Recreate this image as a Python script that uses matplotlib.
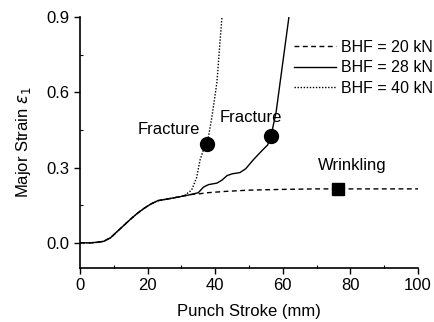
import matplotlib
matplotlib.use("Agg")
import matplotlib.pyplot as plt
from matplotlib.ticker import MultipleLocator

plt.rcParams['font.family'] = ['Liberation Sans', 'DejaVu Sans']

# shared early part of all curves
stroke_common = [0, 3, 5, 7, 9, 11, 13, 15, 17, 19, 21, 23, 26, 30, 33]
strain_common = [0.0, 0.0, 0.002, 0.006, 0.02, 0.045, 0.07, 0.095, 0.118, 0.138, 0.155, 0.168, 0.175, 0.185, 0.193]

# BHF = 20 kN (wrinkling)
stroke_20 = stroke_common + [35, 38, 43, 50, 60, 70, 80, 90, 100]
strain_20 = strain_common + [0.195, 0.2, 0.205, 0.21, 0.213, 0.215, 0.215, 0.215, 0.215]

# BHF = 28 kN (fracture at ~56 mm)
stroke_28 = stroke_common + [35, 36.5, 38, 40.5, 42, 43.5, 45, 47.3, 49, 51.2, 54, 55.5, 56.5, 58, 59.2, 60.5, 61.8]
strain_28 = strain_common + [0.2, 0.222, 0.232, 0.238, 0.25, 0.268, 0.275, 0.28, 0.295, 0.33, 0.37, 0.39, 0.426, 0.52, 0.64, 0.77, 0.9]

# BHF = 40 kN (fracture at ~38 mm)
stroke_40 = stroke_common[:-1] + [31, 33, 34.5, 35.5, 36.5, 37.6, 39, 40.5, 41.4, 42]
strain_40 = strain_common[:-1] + [0.19, 0.21, 0.26, 0.33, 0.37, 0.394, 0.5, 0.64, 0.8, 0.9]

fracture_x = [37.6, 56.5]
fracture_y = [0.394, 0.426]
wrinkle_x = [76.3]
wrinkle_y = [0.215]

fig = plt.figure(figsize=(4.35, 3.22), dpi=100)
ax = fig.add_axes([0.184, 0.168, 0.777, 0.779])

ax.plot(stroke_20, strain_20, color='black', linestyle=(0, (3.5, 2.5)), linewidth=1.0, label='BHF = 20 kN')
ax.plot(stroke_28, strain_28, color='black', linestyle='-', linewidth=1.0, label='BHF = 28 kN')
ax.plot(stroke_40, strain_40, color='black', linestyle=(0, (1, 1.2)), linewidth=1.0, label='BHF = 40 kN')

ax.plot(fracture_x, fracture_y, 'o', color='black', markersize=10, zorder=5)
ax.plot(wrinkle_x, wrinkle_y, 's', color='black', markersize=9, zorder=5)

ax.text(35.5, 0.45, 'Fracture', fontsize=12, ha='right', va='center')
ax.text(59.8, 0.498, 'Fracture', fontsize=12, ha='right', va='center')
ax.text(80.5, 0.31, 'Wrinkling', fontsize=12, ha='center', va='center')

ax.set_xlim(0, 100)
ax.set_ylim(-0.1, 0.9)
ax.xaxis.set_major_locator(MultipleLocator(20))
ax.xaxis.set_minor_locator(MultipleLocator(10))
ax.yaxis.set_major_locator(MultipleLocator(0.3))
ax.yaxis.set_minor_locator(MultipleLocator(0.15))
ax.set_yticks([0.0, 0.3, 0.6, 0.9])
ax.set_yticklabels(['0.0', '0.3', '0.6', '0.9'])
ax.tick_params(axis='both', which='major', labelsize=12, direction='out', length=4, width=1)
ax.tick_params(axis='both', which='minor', direction='in', length=2, width=0.8)

for side in ['top', 'right']:
    ax.spines[side].set_visible(False)
for side in ['left', 'bottom']:
    ax.spines[side].set_linewidth(1.2)

ax.set_xlabel('Punch Stroke (mm)', fontsize=12, labelpad=8)
ax.set_ylabel(r'Major Strain $\varepsilon_1$', fontsize=12, labelpad=10)

ax.legend(loc='upper left', bbox_to_anchor=(0.615, 0.935), frameon=False, fontsize=11.5,
          handlelength=2.6, handletextpad=0.3, labelspacing=0.35, borderaxespad=0)

fig.savefig('out.png', dpi=100)
